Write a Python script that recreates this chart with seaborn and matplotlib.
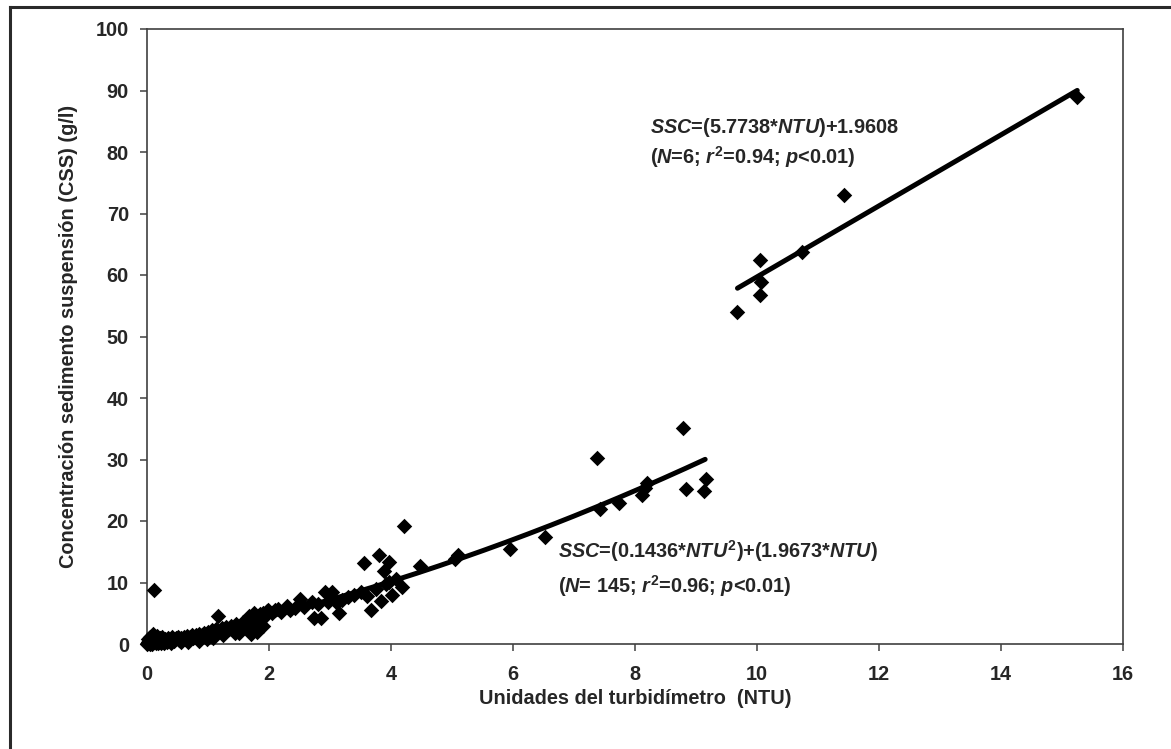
import numpy as np
import pandas as pd
import matplotlib
matplotlib.use("Agg")
import matplotlib.pyplot as plt
import seaborn as sns
from matplotlib.lines import Line2D

# Turbidimeter readings (NTU) and suspended sediment concentration (g/l)
low_ntu = [0.00, 0.01, 0.02, 0.03, 0.04, 0.05, 0.06, 0.07, 0.08, 0.09,
           0.10, 0.11, 0.12, 0.13, 0.14, 0.15, 0.17, 0.19, 0.21, 0.23,
           0.25, 0.27, 0.30, 0.32, 0.35, 0.38, 0.41, 0.44, 0.47, 0.50,
           0.53, 0.56, 0.60, 0.63, 0.66, 0.70, 0.73, 0.76, 0.80, 0.83,
           0.86, 0.90, 0.93, 0.96, 1.00, 1.03, 1.06, 1.10, 1.13, 1.16,
           1.19, 1.23, 1.27, 1.30, 1.34, 1.38, 1.42, 1.46, 1.50, 1.52,
           1.55, 1.58, 1.61, 1.64, 1.67, 1.70, 1.72, 1.74, 1.76, 1.78,
           1.80, 1.82, 1.84, 1.86, 1.88, 1.90, 1.93, 1.96, 1.99,
           0.02, 0.05, 0.18, 0.28, 0.40, 0.55, 0.68, 0.85, 0.98, 1.08,
           1.25, 1.45, 1.68, 1.75, 1.80, 1.90,
           2.05, 2.10, 2.15, 2.20, 2.29, 2.35, 2.42, 2.51, 2.58, 2.70,
           2.73, 2.80, 2.86, 2.92, 2.97, 3.03, 3.11, 3.14, 3.20, 3.30,
           3.40, 3.50, 3.56, 3.60, 3.68, 3.75, 3.80, 3.83, 3.88, 3.92,
           3.96, 3.96, 4.02, 4.08, 4.18, 4.21, 4.48, 5.05, 5.10,
           5.95, 6.52, 7.38, 7.42, 7.74, 8.11, 8.16, 8.19, 8.79, 8.84,
           9.13, 9.16]
low_ssc = [0.0, 0.3, 0.8, 0.1, 0.5, 1.1, 0.2, 0.6, 0.0, 0.9,
           1.6, 0.4, 8.7, 1.2, 0.1, 0.7, 1.3, 0.3, 0.9, 0.2,
           1.1, 0.5, 0.8, 0.3, 1.0, 0.6, 1.2, 0.5, 0.9, 1.1,
           0.6, 1.0, 1.2, 0.8, 1.3, 1.1, 1.5, 1.0, 1.4, 1.2,
           1.7, 1.4, 1.8, 1.5, 2.0, 1.7, 2.2, 1.9, 2.4, 4.6,
           2.1, 2.6, 2.3, 2.8, 2.5, 3.0, 2.7, 3.3, 1.8, 2.4,
           3.1, 3.5, 2.8, 3.8, 3.2, 1.6, 2.5, 3.9, 2.9, 4.2,
           3.4, 4.6, 3.7, 4.9, 4.1, 5.0, 4.5, 5.3, 5.5,
           0.2, 0.0, 0.1, 0.2, 0.2, 0.3, 0.4, 0.5, 0.8, 1.0,
           1.4, 1.8, 4.5, 5.0, 2.0, 3.0,
           5.1, 5.6, 5.7, 5.2, 6.1, 5.5, 5.9, 7.3, 6.0, 6.9,
           4.3, 6.5, 4.3, 8.5, 6.8, 8.5, 6.6, 5.0, 7.2, 7.6,
           8.0, 8.4, 13.1, 7.8, 5.6, 9.0, 14.4, 7.0, 11.9, 9.8,
           13.3, 10.1, 8.0, 10.6, 9.2, 19.2, 12.7, 13.9, 14.4,
           15.4, 17.4, 30.3, 21.9, 22.9, 24.2, 25.3, 26.1, 35.2, 25.2,
           24.8, 26.9]

high_ntu = [9.68, 10.05, 10.06, 10.05, 10.74, 11.43, 15.25]
high_ssc = [54.0, 56.7, 58.9, 62.4, 63.8, 73.0, 88.9]

# Fitted models: quadratic through origin (low range), linear (high range)
low_a, low_b = 0.1436, 1.9673
low_range = (0.0, 9.15)
high_slope, high_icpt = 5.7738, 1.9608
high_range = (9.68, 15.25)

x_ticks = [0, 2, 4, 6, 8, 10, 12, 14, 16]
y_ticks = [0, 10, 20, 30, 40, 50, 60, 70, 80, 90, 100]
x_label = "Unidades del turbidímetro  (NTU)"
y_label = "Concentración sedimento suspensión (CSS) (g/l)"

sns.set_style("ticks")
plt.rcParams["font.family"] = ["Liberation Sans", "DejaVu Sans"]
plt.rcParams["font.weight"] = "bold"
plt.rcParams["mathtext.fontset"] = "custom"
plt.rcParams["mathtext.rm"] = "Liberation Sans:bold"
plt.rcParams["mathtext.it"] = "Liberation Sans:bold:italic"
plt.rcParams["mathtext.bf"] = "Liberation Sans:bold"

FS = 14.3
INK = "#404040"

fig = plt.figure(figsize=(11.71, 7.49), dpi=100)
ax = fig.add_axes([147 / 1171, 1 - 644 / 749, 976 / 1171, 615 / 749])

points = pd.DataFrame({
    "ntu": low_ntu + high_ntu,
    "ssc": low_ssc + high_ssc,
})
sns.scatterplot(data=points, x="ntu", y="ssc", marker="D", color="black",
                s=62, linewidth=0, ax=ax, zorder=3, clip_on=False)

xl = np.linspace(*low_range, 200)
xh = np.linspace(*high_range, 50)
fits = pd.DataFrame({
    "ntu": np.concatenate([xl, xh]),
    "ssc": np.concatenate([low_a * xl ** 2 + low_b * xl,
                           high_slope * xh + high_icpt]),
    "model": ["low"] * len(xl) + ["high"] * len(xh),
})
sns.lineplot(data=fits, x="ntu", y="ssc", units="model", estimator=None,
             color="black", linewidth=3.6, ax=ax, zorder=4, legend=False)

ax.set_xlim(0, 16)
ax.set_ylim(0, 100)
ax.set_xticks(x_ticks)
ax.set_yticks(y_ticks)
ax.set_xticklabels([str(t) for t in x_ticks], fontsize=FS, fontweight="bold")
ax.set_yticklabels([str(t) for t in y_ticks], fontsize=FS, fontweight="bold")
ax.tick_params(axis="both", direction="out", length=5, width=1.1, color=INK)
ax.tick_params(axis="x", pad=10)
ax.tick_params(axis="y", pad=8)
for side in ["left", "right", "top", "bottom"]:
    ax.spines[side].set_visible(True)
    ax.spines[side].set_color(INK)
    ax.spines[side].set_linewidth(1.2)

ax.set_xlabel(x_label, fontsize=FS, fontweight="bold")
ax.set_ylabel(y_label, fontsize=FS, fontweight="bold")
ax.xaxis.set_label_coords(0.5, -0.073)
ax.yaxis.set_label_coords(-0.071, 0.5)

ax.text(8.25, 83.1, r"$\mathit{SSC}$=(5.7738*$\mathit{NTU}$)+1.9608",
        fontsize=FS, fontweight="bold", va="baseline", ha="left")
ax.text(8.25, 78.0,
        r"($\mathit{N}$=6; $\mathit{r}^{\mathrm{2}}$=0.94; $\mathit{p}$<0.01)",
        fontsize=FS, fontweight="bold", va="baseline", ha="left")
ax.text(6.74, 14.0,
        r"$\mathit{SSC}$=(0.1436*$\mathit{NTU}^{\mathrm{2}}$)+(1.9673*$\mathit{NTU}$)",
        fontsize=FS, fontweight="bold", va="baseline", ha="left")
ax.text(6.74, 8.35,
        r"($\mathit{N}$= 145; $\mathit{r}^{\mathrm{2}}$=0.96; $\mathit{p}$<0.01)",
        fontsize=FS, fontweight="bold", va="baseline", ha="left")

# outer frame around the figure (left and top edges visible)
fig.add_artist(Line2D([10 / 1171, 10 / 1171], [0, 1 - 7.3 / 749],
                      transform=fig.transFigure, color="#2a2a2a", linewidth=2.2,
                      solid_capstyle="projecting"))
fig.add_artist(Line2D([10 / 1171, 1], [1 - 7.3 / 749, 1 - 7.3 / 749],
                      transform=fig.transFigure, color="#2a2a2a", linewidth=2.2,
                      solid_capstyle="projecting"))

fig.savefig("out.png", dpi=100, facecolor="white")
